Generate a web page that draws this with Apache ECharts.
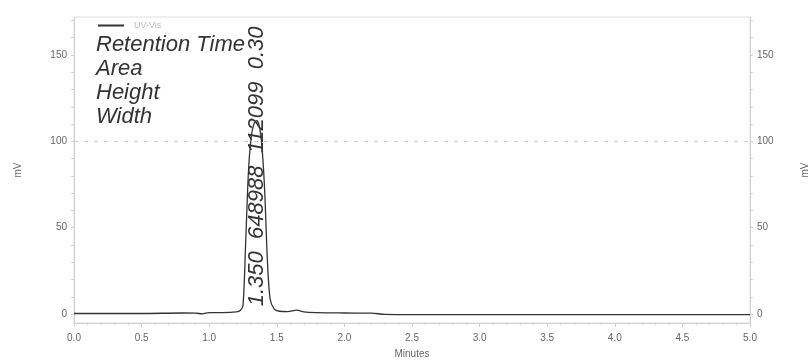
<!DOCTYPE html>
<html><head><meta charset="utf-8">
<script src="https://cdn.jsdelivr.net/npm/echarts@6/dist/echarts.min.js"></script>
<style>html,body{margin:0;padding:0;background:#fff}#c{width:811px;height:360px}</style>
</head><body><div id="c"></div>
<script>
const seriesName = 'UV-Vis';
const times =  [0, 0.3, 0.5, 0.8, 0.9, 0.95, 1.0, 1.1, 1.2, 1.23, 1.25, 1.27, 1.29, 1.31, 1.33, 1.35, 1.37, 1.39, 1.41, 1.43, 1.45, 1.48, 1.52, 1.58, 1.65, 1.7, 1.8, 2.0, 2.2, 2.3, 2.5, 3.0, 3.5, 4.0, 4.5, 5.0];
const signal = [0.3, 0.3, 0.3, 0.6, 0.5, 0.1, 0.8, 0.8, 1.2, 2.0, 5, 42, 82, 102, 110, 112, 109, 97, 72, 32, 9, 3, 1.6, 1.4, 2.2, 1.2, 0.8, 0.6, 0.5, -0.2, -0.3, -0.3, -0.3, -0.3, -0.3, -0.3];
const xTicks = [0, 0.5, 1.0, 1.5, 2.0, 2.5, 3.0, 3.5, 4.0, 4.5, 5.0];
const yTicks = [0, 50, 100, 150];
const yMinorTicks = [0, 10, 20, 30, 40, 50, 60, 70, 80, 90, 100, 110, 120, 130, 140, 150, 160, 170];
const infoLabels = ['Retention Time', 'Area', 'Height', 'Width'];
const peakInfo = ['1.350', '648988', '112099', '0.30'];
const peakTime = 1.352;

const data = times.map((t, i) => [t, signal[i]]);
const chart = echarts.init(document.getElementById('c'));
const axisGrey = '#d0d0d0';
const labelGrey = '#666';
const yAxisCommon = {
  type: 'value', min: -5.2, max: 172,
  axisLine: {show: true, lineStyle: {color: axisGrey}},
  axisTick: {show: true, customValues: yMinorTicks, length: 3, lineStyle: {color: axisGrey}},
  axisLabel: {customValues: yTicks, color: labelGrey, fontSize: 10, fontFamily: 'Liberation Sans', margin: 7},
  splitLine: {show: false},
  name: 'mV', nameLocation: 'middle', nameRotate: 90,
  nameTextStyle: {color: labelGrey, fontSize: 10, fontFamily: 'Liberation Sans'}
};
chart.setOption({
  animation: false,
  grid: {left: 74, right: 61, top: 17, bottom: 37, show: true, borderColor: '#e0e0e0', borderWidth: 1, outerBoundsMode: 'none', containLabel: false},
  legend: {
    data: [seriesName], left: 93, top: 16, itemWidth: 26, itemHeight: 2,
    icon: 'rect',
    textStyle: {color: '#bbb', fontSize: 9, fontFamily: 'Liberation Sans', padding: [0, 0, 0, 5]}
  },
  xAxis: {
    type: 'value', min: 0, max: 5, interval: 0.5,
    axisLine: {show: true, onZero: false, lineStyle: {color: axisGrey}},
    axisTick: {show: true, length: 4, lineStyle: {color: axisGrey}},
    minorTick: {show: true, splitNumber: 5, length: 2, lineStyle: {color: axisGrey}},
    axisLabel: {color: labelGrey, fontSize: 10, fontFamily: 'Liberation Sans', margin: 10, formatter: v => v.toFixed(1)},
    splitLine: {show: false},
    name: 'Minutes', nameLocation: 'middle', nameGap: 26,
    nameTextStyle: {color: labelGrey, fontSize: 10, fontFamily: 'Liberation Sans'}
  },
  yAxis: [
    Object.assign({}, yAxisCommon, {position: 'left', nameGap: 51}),
    Object.assign({}, yAxisCommon, {position: 'right', nameGap: 50, nameRotate: 90})
  ],
  series: [{
    name: seriesName, type: 'line', data: data, symbol: 'none', smooth: 0.3,
    lineStyle: {color: '#333', width: 1.3}, itemStyle: {color: '#333'},
    markLine: {
      silent: true, symbol: 'none', label: {show: false},
      lineStyle: {color: '#ccc', type: [4, 6], width: 1},
      data: [{yAxis: 100}]
    },
    markPoint: {
      symbol: 'circle', symbolSize: 0,
      data: [{
        coord: [peakTime, 4.5],
        label: {
          show: true, position: 'inside', rotate: 90, align: 'left', verticalAlign: 'middle',
          formatter: peakInfo.join('  '),
          fontSize: 22, fontStyle: 'italic', color: '#333', fontFamily: 'Liberation Sans'
        }
      }]
    }
  }],
  graphic: infoLabels.map((t, i) => ({
    type: 'text', left: 96, top: 34 + i * 24,
    style: {text: t, fontSize: 22, fontStyle: 'italic', fill: '#333', fontFamily: 'Liberation Sans'}
  }))
});
</script></body></html>
